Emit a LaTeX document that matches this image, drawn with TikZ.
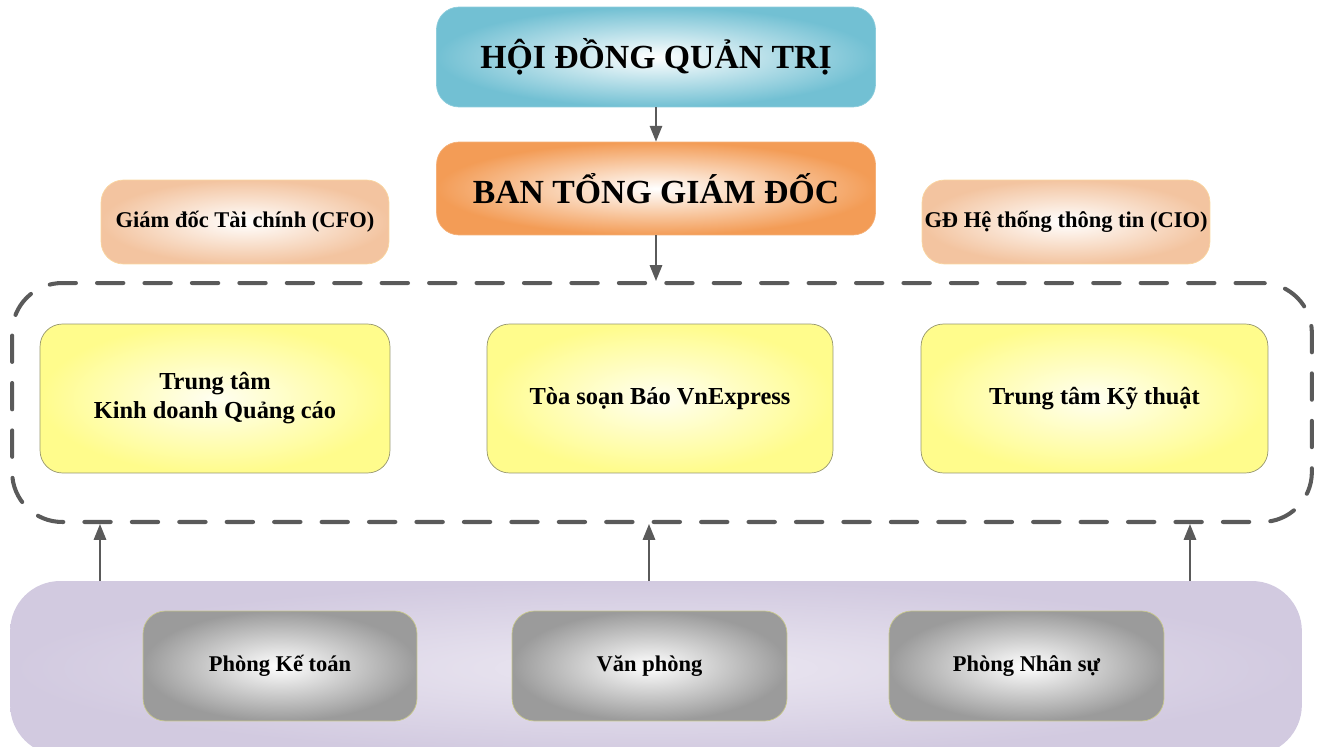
\documentclass[tikz,border=0pt]{standalone}
\usepackage{fontspec}
\setmainfont{Liberation Serif}
\usetikzlibrary{arrows.meta}
\definecolor{xanhhd}{RGB}{114,192,211}
\definecolor{camtgd}{RGB}{243,156,86}
\definecolor{damgd}{RGB}{243,196,160}
\definecolor{viengd}{RGB}{250,214,160}
\definecolor{vangtt}{RGB}{255,252,140}
\definecolor{vientt}{RGB}{150,150,110}
\definecolor{xamph}{RGB}{155,155,155}
\definecolor{vienph}{RGB}{200,200,140}
\definecolor{timnen}{RGB}{210,202,224}
\definecolor{timsang}{RGB}{236,232,242}
\definecolor{duong}{RGB}{90,90,90}
\begin{document}
\begin{tikzpicture}[x=0.02cm,y=-0.02cm,
    hop/.style={rounded corners=0.45cm, inner sep=0pt, align=center, font=\bfseries},
    muiten/.style={draw=duong, line width=1.1pt, -{Triangle[length=9pt,width=7pt]}}]
  \useasboundingbox (0,0) rectangle (1323,747);
  % khung chung
  \node[draw=duong, line width=2.3pt, dash pattern=on 15pt off 12pt, line cap=round,
        rounded corners=1cm, minimum width=26cm, minimum height=4.78cm] (khoi) at (662,402.5) {};
  \node[hop, rounded corners=1cm, shade, inner color=timsang, outer color=timnen,
        minimum width=25.84cm, minimum height=3.48cm] (nen) at (656,668) {};
  % lanh dao
  \node[hop, shade, inner color=white, outer color=xanhhd, draw=xanhhd!80,
        minimum width=8.78cm, minimum height=2cm, font=\bfseries\fontsize{19.2}{23}\selectfont] (hdqt) at (656,57) {HỘI ĐỒNG QUẢN TRỊ};
  \node[hop, shade, inner color=white, outer color=camtgd, draw=camtgd!80,
        minimum width=8.78cm, minimum height=1.86cm, font=\bfseries\fontsize{19.2}{23}\selectfont] (btgd) at (656,188.5) {BAN TỔNG GIÁM ĐỐC};
  \node[hop, shade, inner color=white, outer color=damgd, draw=viengd,
        minimum width=5.76cm, minimum height=1.68cm, font=\bfseries\fontsize{12.8}{16}\selectfont] (cfo) at (245,222) {Giám đốc Tài chính (CFO)};
  \node[hop, shade, inner color=white, outer color=damgd, draw=viengd,
        minimum width=5.76cm, minimum height=1.68cm, font=\bfseries\fontsize{12.8}{16}\selectfont] (cio) at (1066,222) {GĐ Hệ thống thông tin (CIO)};
  % trung tam
  \node[hop, shade, inner color=vangtt!12, outer color=vangtt, draw=vientt,
        minimum width=7cm, minimum height=2.98cm, font=\bfseries\fontsize{13.9}{16.5}\selectfont] (ttkd) at (215,398.5) {Trung tâm\\Kinh doanh Quảng cáo};
  \node[hop, shade, inner color=vangtt!12, outer color=vangtt, draw=vientt,
        minimum width=6.92cm, minimum height=2.98cm, font=\bfseries\fontsize{13.9}{16.5}\selectfont] (toasoan) at (660,398.5) {Tòa soạn Báo VnExpress};
  \node[hop, shade, inner color=vangtt!12, outer color=vangtt, draw=vientt,
        minimum width=6.94cm, minimum height=2.98cm, font=\bfseries\fontsize{13.9}{16.5}\selectfont] (ttkt) at (1094.5,398.5) {Trung tâm Kỹ thuật};
  % phong ban
  \node[hop, shade, inner color=white, outer color=xamph, draw=vienph,
        minimum width=5.48cm, minimum height=2.2cm, font=\bfseries\fontsize{12.8}{16}\selectfont] (ketoan) at (280,666) {Phòng Kế toán};
  \node[hop, shade, inner color=white, outer color=xamph, draw=vienph,
        minimum width=5.5cm, minimum height=2.2cm, font=\bfseries\fontsize{12.8}{16}\selectfont] (vanphong) at (649.5,666) {Văn phòng};
  \node[hop, shade, inner color=white, outer color=xamph, draw=vienph,
        minimum width=5.5cm, minimum height=2.2cm, font=\bfseries\fontsize{12.8}{16}\selectfont] (nhansu) at (1026.5,666) {Phòng Nhân sự};
  % mui ten
  \draw[muiten] (hdqt.south) -- (btgd.north);
  \draw[muiten] (btgd.south) -- (khoi.north -| btgd.south);
  \foreach \x in {100,649,1190}
    \draw[muiten] (nen.north -| \x,0) -- (khoi.south -| \x,0);
\end{tikzpicture}
\end{document}
